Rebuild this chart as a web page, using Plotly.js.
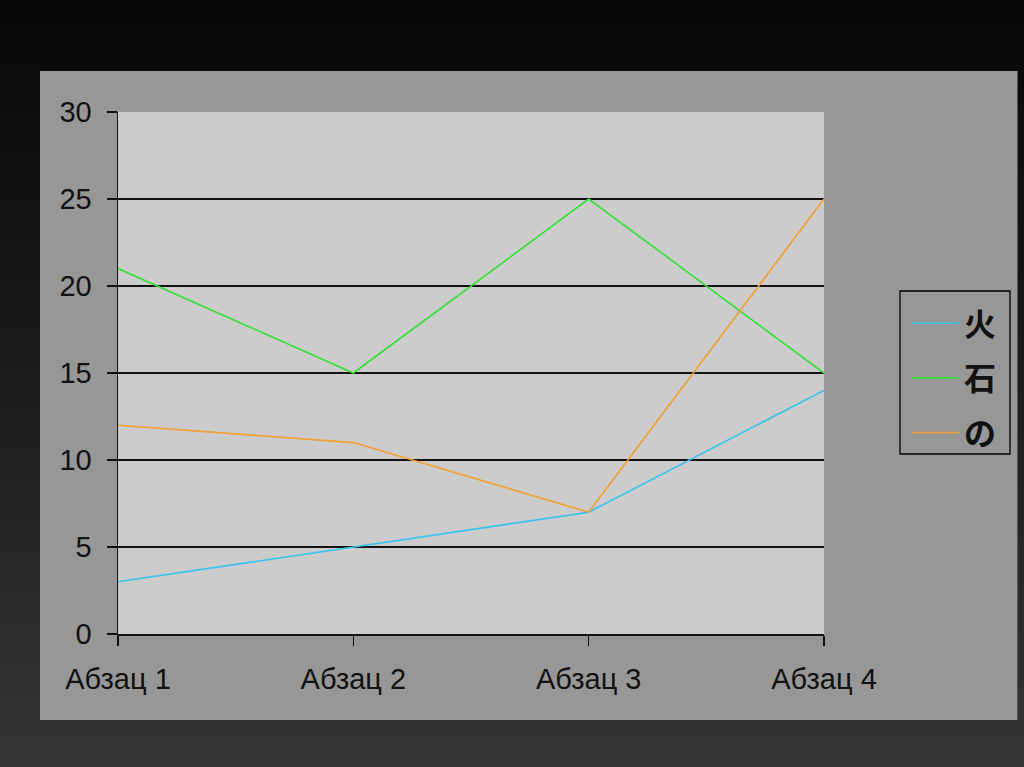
<!DOCTYPE html>
<html>
<head>
<meta charset="utf-8">
<script src="https://cdn.plot.ly/plotly-3.0.1.min.js"></script>
<style>
  html, body { margin: 0; padding: 0; width: 1024px; height: 767px; overflow: hidden; }
  body { background: linear-gradient(to bottom, #070707 0%, #1c1c1c 50%, #353535 100%); position: relative; }
  #panel { position: absolute; left: 40px; top: 71px; width: 977px; height: 649px; background: #979797; border-right: 1px solid #555555; }
  #chart { position: absolute; left: 0; top: 0; width: 978px; height: 649px; }
</style>
</head>
<body>
<div id="panel"><div id="chart"></div></div>
<script>
const categories = ["Абзац 1", "Абзац 2", "Абзац 3", "Абзац 4"];
const seriesNames = ["火", "石", "の"];
const seriesFire = [3, 5, 7, 14];
const seriesStone = [21, 15, 25, 15];
const seriesNo = [12, 11, 7, 25];
const yTicks = [0, 5, 10, 15, 20, 25, 30];
const colors = ["#33c4ee", "#33e033", "#f2a030"];

const allSeries = [seriesFire, seriesStone, seriesNo];
const traces = allSeries.map((vals, i) => ({
  type: "scatter",
  mode: "lines",
  x: categories,
  y: vals,
  name: seriesNames[i],
  legendgroup: "g" + i,
  line: { color: colors[i], width: 1.6 },
  hoverinfo: "skip"
}));

// legend frame (panel px -> paper coords)
const plotL = 78, plotT = 41, plotW = 706, plotH = 522;
const fx = px => (px - plotL) / plotW;
const fy = py => 1 - (py - plotT) / plotH;

const layout = {
  width: 978,
  height: 649,
  margin: { l: plotL, r: 978 - plotL - plotW, t: plotT, b: 649 - plotT - plotH, pad: 0 },
  paper_bgcolor: "rgba(0,0,0,0)",
  plot_bgcolor: "#cccccc",
  font: { family: "Liberation Sans, Arial, sans-serif", size: 28, color: "#111111" },
  showlegend: true,
  shapes: [{
    type: "rect", xref: "paper", yref: "paper",
    x0: fx(860), x1: fx(970), y0: fy(383), y1: fy(220),
    line: { color: "#000000", width: 1.3 }, fillcolor: "rgba(0,0,0,0)", layer: "above"
  }],
  legend: {
    xref: "container", yref: "container",
    x: 867 / 978, xanchor: "left",
    y: 1 - 225 / 649, yanchor: "top",
    bgcolor: "rgba(0,0,0,0)",
    borderwidth: 0,
    traceorder: "grouped",
    tracegroupgap: 10,
    font: { family: "Noto Sans CJK JP, sans-serif", size: 32, color: "#111111", weight: "bold" },
    itemwidth: 47
  },
  xaxis: {
    type: "category",
    range: [0, 3],
    tickvals: categories,
    ticktext: categories,
    ticks: "outside",
    ticklen: 10,
    tickwidth: 1.5,
    tickcolor: "#111111",
    showline: true,
    linecolor: "#111111",
    linewidth: 1.5,
    showgrid: false,
    zeroline: false,
    ticklabelstandoff: 9,
    tickfont: { family: "Liberation Sans, Arial, sans-serif", size: 29, color: "#111111" },
    fixedrange: true
  },
  yaxis: {
    range: [0, 30],
    tickvals: yTicks,
    ticks: "outside",
    ticklen: 10,
    tickwidth: 1.5,
    tickcolor: "#111111",
    showline: true,
    linecolor: "#111111",
    linewidth: 1.5,
    showgrid: true,
    gridcolor: "#111111",
    gridwidth: 1.5,
    zeroline: false,
    ticklabelstandoff: 9,
    tickfont: { family: "Liberation Sans, Arial, sans-serif", size: 29, color: "#111111" },
    fixedrange: true
  }
};

Plotly.newPlot("chart", traces, layout, { displayModeBar: false, staticPlot: true });
</script>
</body>
</html>
